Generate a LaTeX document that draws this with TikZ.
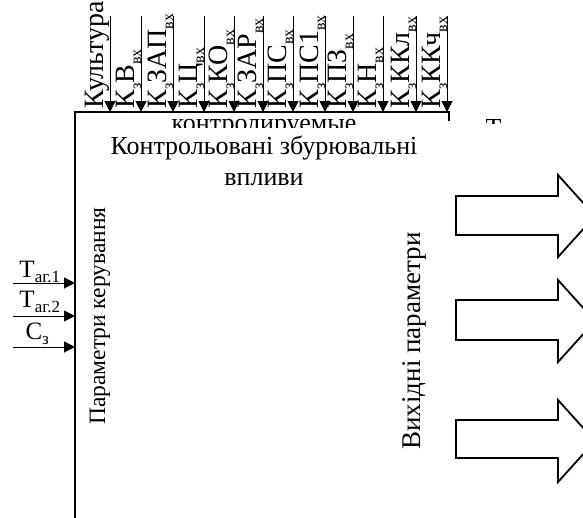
\documentclass[tikz,border=0pt]{standalone}
\usepackage{fontspec}
\setmainfont{Liberation Serif}
\usetikzlibrary{arrows.meta}
\newcommand\lo[1]{\raisebox{-0.25em}{\fontsize{16}{16}\selectfont #1}}
\newcommand\loside[1]{\raisebox{-0.22em}{\fontsize{17}{17}\selectfont #1}}
\begin{document}
\begin{tikzpicture}[x=1pt,y=-1pt,line width=1pt,
  toplbl/.style={rotate=90,anchor=base west,inner sep=0pt,font=\fontsize{28}{32}\selectfont},
  inarr/.style={-{Triangle[length=11pt,width=11pt]},line width=1pt},
  bigtxt/.style={font=\fontsize{26}{31}\selectfont,inner sep=0pt},
  vtxt/.style={font=\fontsize{27}{31}\selectfont,inner sep=0pt,rotate=90,anchor=base},
  sidelbl/.style={anchor=base west,inner sep=0pt,font=\fontsize{25}{28}\selectfont},
  boxline/.style={line width=1.2pt},
  blockarr/.style={line width=1.8pt,line join=miter}]
\useasboundingbox (0,0) rectangle (583,517);
\clip (0,0) rectangle (583,517);

% partially hidden fragments
\begin{scope}
  \clip (150,100) rectangle (420,127);
  \node[bigtxt,anchor=base,text depth=0pt] (ghost) at (264,131) {контролируемые};
\end{scope}
\begin{scope}
  \clip (478,110) rectangle (510,123.5);
  \node[bigtxt,anchor=base west,text depth=0pt] (ghostT) at (485,136) {Т};
\end{scope}

% box
\coordinate (bBL) at (75,520);
\coordinate (bTL) at (75,112);
\coordinate (bTR) at (449,112);
\coordinate (bTRd) at (449,121);
\draw[boxline] (bBL) -- (bTL) -- (bTR) -- (bTRd);

% top inputs
\foreach \i/\x/\t in {1/110/{Культура},2/141/{К\lo{з}В\lo{вх}},3/173/{К\lo{з}ЗАП\lo{вх}},
  4/204/{К\lo{з}Ц\lo{вх}},5/234/{К\lo{з}КО\lo{вх}},6/263/{К\lo{з}ЗАР\lo{вх}},
  7/293/{К\lo{з}ПС\lo{вх}},8/325/{К\lo{з}ПС1\lo{вх}},9/353/{К\lo{з}ПЗ\lo{вх}},
  10/383/{К\lo{з}Н\lo{вх}},11/416/{К\lo{з}ККл\lo{вх}},12/447/{К\lo{з}ККч\lo{вх}}}{
  \coordinate (ts\i) at (\x,16);
  \coordinate (te\i) at (\x,112);
  \draw[inarr] (ts\i) -- (te\i);
  \node[toplbl] (tl\i) at (\x-7,109) {\t};
}

% titles
\node[bigtxt,anchor=base] (title1) at (264,154) {Контрольовані збурювальні};
\node[bigtxt,anchor=base] (title2) at (264,185) {впливи};
\node[vtxt,font=\fontsize{23.5}{28}\selectfont] (ctrl) at (105,316) {Параметри керування};
\node[vtxt] (outp) at (420,341) {Вихідні параметри};

% left inputs
\foreach \i/\y in {1/283,2/316,3/347}{
  \coordinate (ls\i) at (13,\y);
  \coordinate (le\i) at (75,\y);
  \draw[inarr] (ls\i) -- (le\i);
}
\node[sidelbl] (tag1) at (19,277) {Т\loside{аг.1}};
\node[sidelbl] (tag2) at (19,307) {Т\loside{аг.2}};
\node[sidelbl] (cz) at (25,339) {С\loside{з}};

% output block arrows
\foreach \a/\b/\c/\d/\m in {196/235/175/257/216,300/340/280/362/321,420/458/400/482/441}{
  \draw[blockarr] (456,\a) -- (558,\a) -- (558,\c) -- (595,\m) -- (558,\d) -- (558,\b) -- (456,\b) -- cycle;
}
\end{tikzpicture}
\end{document}
